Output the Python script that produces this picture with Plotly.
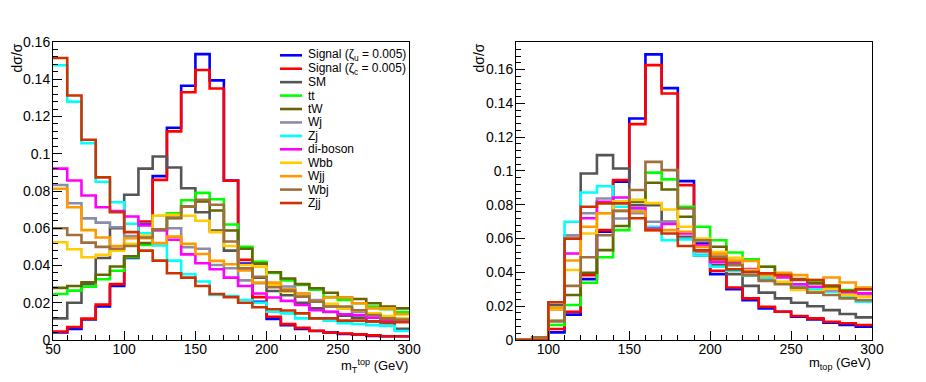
import plotly.graph_objects as go

# lower bin edges (GeV), all bins 10 GeV wide, last edge 300
mt_edges = list(range(50, 300, 10))
mtop_edges = list(range(80, 300, 10))
x_hi = 300

names = ["Signal (ζ<sub>u</sub> = 0.005)", "Signal (ζ<sub>c</sub> = 0.005)", "SM", "tt", "tW", "Wj", "Zj",
         "di-boson", "Wbb", "Wjj", "Wbj", "Zjj"]
colors = ["#0000ff", "#ff0000", "#555555", "#00ff00", "#666600", "#8c8ca8", "#00ffff",
          "#ff00ff", "#ffcc00", "#ff9900", "#a0703c", "#cc3300"]

# transverse mass of the top (left panel)
mt_sig_u = [0.004, 0.006, 0.011, 0.018, 0.029, 0.044, 0.062, 0.088, 0.114, 0.1365, 0.1535, 0.1394, 0.0856,
            0.041, 0.0205, 0.0113, 0.008, 0.006, 0.0048, 0.004, 0.0032, 0.003, 0.0022, 0.002, 0.002]
mt_sig_c = [0.0045, 0.007, 0.0115, 0.019, 0.030, 0.045, 0.0636, 0.086, 0.112, 0.133, 0.145, 0.135, 0.0855,
            0.043, 0.023, 0.0125, 0.0085, 0.0065, 0.005, 0.004, 0.0035, 0.003, 0.0025, 0.002, 0.002]
mt_sm = [0.0116, 0.020, 0.030, 0.044, 0.060, 0.078, 0.092, 0.0985, 0.0926, 0.0815, 0.0686, 0.0588, 0.048,
         0.0385, 0.0335, 0.0263, 0.024, 0.020, 0.017, 0.015, 0.013, 0.012, 0.010, 0.009, 0.006]
mt_tt = [0.0247, 0.0265, 0.0286, 0.0326, 0.0372, 0.0444, 0.051, 0.059, 0.068, 0.075, 0.079, 0.0756, 0.062,
         0.050, 0.042, 0.036, 0.032, 0.0296, 0.027, 0.023, 0.0215, 0.0197, 0.018, 0.0165, 0.015]
mt_tw = [0.028, 0.029, 0.031, 0.035, 0.0395, 0.045, 0.052, 0.0595, 0.0654, 0.0717, 0.0744, 0.0695, 0.0588,
         0.049, 0.041, 0.0364, 0.033, 0.030, 0.0278, 0.0254, 0.0228, 0.022, 0.0197, 0.018, 0.017]
mt_wj = [0.0832, 0.0734, 0.0653, 0.063, 0.0605, 0.0558, 0.0551, 0.0594, 0.060, 0.0498, 0.049, 0.0403, 0.0385,
         0.032, 0.0305, 0.0296, 0.0287, 0.025, 0.0215, 0.018, 0.017, 0.0152, 0.0134, 0.0116, 0.0116]
mt_zj = [0.1475, 0.128, 0.1057, 0.085, 0.074, 0.0624, 0.0573, 0.0507, 0.0426, 0.0353, 0.0314, 0.0242, 0.0236,
         0.0215, 0.020, 0.0152, 0.0143, 0.0116, 0.0116, 0.0104, 0.009, 0.0086, 0.008, 0.0075, 0.0048]
mt_diboson = [0.092, 0.0856, 0.0776, 0.0713, 0.0693, 0.0663, 0.0615, 0.059, 0.0538, 0.046, 0.0412, 0.038, 0.0335,
              0.029, 0.025, 0.0228, 0.021, 0.0188, 0.016, 0.0152, 0.0138, 0.0134, 0.012, 0.0107, 0.0107]
mt_wbb = [0.0525, 0.0487, 0.0444, 0.0457, 0.048, 0.0516, 0.056, 0.0668, 0.0672, 0.0667, 0.064, 0.0579, 0.0505,
          0.0403, 0.0394, 0.0296, 0.026, 0.0236, 0.0206, 0.0194, 0.017, 0.0158, 0.0143, 0.0129, 0.0116]
mt_wjj = [0.0812, 0.0713, 0.059, 0.055, 0.0505, 0.0546, 0.0546, 0.052, 0.0555, 0.0516, 0.0462, 0.0425, 0.0407,
          0.0373, 0.0308, 0.0308, 0.0272, 0.025, 0.0206, 0.0228, 0.0228, 0.0197, 0.017, 0.017, 0.0138]
mt_wbj = [0.060, 0.0564, 0.0523, 0.050, 0.049, 0.0505, 0.055, 0.0595, 0.0658, 0.0717, 0.0753, 0.0726, 0.0529,
          0.0385, 0.034, 0.0283, 0.0265, 0.0233, 0.0206, 0.018, 0.018, 0.016, 0.0134, 0.0116, 0.011]
mt_zjj = [0.1514, 0.1313, 0.1075, 0.0873, 0.0686, 0.0579, 0.048, 0.0426, 0.0358, 0.0335, 0.029, 0.0247, 0.023,
          0.020, 0.0176, 0.0165, 0.0158, 0.0143, 0.0116, 0.0116, 0.0104, 0.0104, 0.0099, 0.0095, 0.0095]

# reconstructed top mass (right panel)
mtop_sig_u = [0, 0, 0.0045, 0.015, 0.036, 0.064, 0.0936, 0.131, 0.169, 0.149, 0.094, 0.057, 0.039, 0.030,
              0.0236, 0.0187, 0.0167, 0.0138, 0.0122, 0.0102, 0.0089, 0.0079]
mtop_sig_c = [0, 0, 0.0065, 0.0167, 0.0384, 0.065, 0.0946, 0.1277, 0.1626, 0.1458, 0.0916, 0.0562, 0.041, 0.0311,
              0.0246, 0.0197, 0.0167, 0.0142, 0.0128, 0.0108, 0.0099, 0.0089]
mtop_sm = [0, 0, 0.0207, 0.062, 0.0985, 0.1094, 0.1015, 0.0798, 0.0798, 0.070, 0.061, 0.050, 0.0443, 0.039,
           0.032, 0.028, 0.0246, 0.022, 0.020, 0.0177, 0.0154, 0.0134]
mtop_tt = [0, 0, 0.0089, 0.0207, 0.0339, 0.049, 0.065, 0.0828, 0.099, 0.095, 0.0788, 0.067, 0.059, 0.0518,
           0.0477, 0.0433, 0.039, 0.0359, 0.0345, 0.0315, 0.0296, 0.0276]
mtop_tw = [0, 0, 0.0114, 0.0266, 0.0398, 0.0532, 0.0674, 0.0818, 0.093, 0.089, 0.0729, 0.059, 0.0552, 0.0463,
           0.0414, 0.0433, 0.0384, 0.036, 0.0335, 0.032, 0.029, 0.030]
mtop_wj = [0, 0, 0.019, 0.062, 0.075, 0.0837, 0.0719, 0.075, 0.070, 0.070, 0.060, 0.052, 0.048, 0.045,
           0.040, 0.036, 0.034, 0.032, 0.031, 0.030, 0.028, 0.027]
mtop_zj = [0, 0, 0.018, 0.070, 0.0873, 0.091, 0.0788, 0.0772, 0.067, 0.059, 0.0595, 0.050, 0.0433, 0.041,
           0.038, 0.037, 0.034, 0.0325, 0.030, 0.0286, 0.0256, 0.0227]
mtop_diboson = [0, 0, 0.018, 0.0512, 0.072, 0.0818, 0.0843, 0.078, 0.066, 0.0686, 0.063, 0.056, 0.046, 0.045,
                0.042, 0.039, 0.037, 0.033, 0.0315, 0.0296, 0.0286, 0.0276]
mtop_wbb = [0, 0, 0.018, 0.0414, 0.063, 0.075, 0.082, 0.0828, 0.081, 0.0772, 0.067, 0.060, 0.052, 0.0487,
            0.0414, 0.038, 0.0345, 0.0296, 0.0286, 0.030, 0.0266, 0.0256]
mtop_wjj = [0, 0.0016, 0.019, 0.047, 0.067, 0.075, 0.0764, 0.076, 0.065, 0.065, 0.064, 0.055, 0.051, 0.047,
            0.0467, 0.0384, 0.0398, 0.0384, 0.0355, 0.037, 0.034, 0.031]
mtop_wbj = [0, 0.0016, 0.011, 0.032, 0.049, 0.062, 0.0764, 0.0887, 0.1054, 0.1005, 0.0778, 0.059, 0.0493, 0.0443,
            0.0384, 0.035, 0.033, 0.031, 0.028, 0.0266, 0.0246, 0.0236]
mtop_zjj = [0, 0, 0.0223, 0.060, 0.0788, 0.0808, 0.0808, 0.072, 0.065, 0.063, 0.0556, 0.053, 0.0477, 0.0418,
            0.0404, 0.0394, 0.0384, 0.0355, 0.0355, 0.032, 0.029, 0.030]

mt_all = [mt_sig_u, mt_sig_c, mt_sm, mt_tt, mt_tw, mt_wj, mt_zj, mt_diboson, mt_wbb, mt_wjj, mt_wbj, mt_zjj]
mtop_all = [mtop_sig_u, mtop_sig_c, mtop_sm, mtop_tt, mtop_tw, mtop_wj, mtop_zj, mtop_diboson, mtop_wbb,
            mtop_wjj, mtop_wbj, mtop_zjj]

W, H = 926, 382
font = "Liberation Sans, Arial, sans-serif"

fig = go.Figure()

# histograms drawn as steps
for vals, col in zip(mt_all, colors):
    fig.add_trace(go.Scatter(x=mt_edges + [x_hi], y=vals + [vals[-1]], mode="lines", line_shape="hv",
                             line=dict(color=col, width=2.6), xaxis="x", yaxis="y", showlegend=False))
for vals, col in zip(mtop_all, colors):
    fig.add_trace(go.Scatter(x=mtop_edges + [x_hi], y=vals + [vals[-1]], mode="lines", line_shape="hv",
                             line=dict(color=col, width=2.6), xaxis="x2", yaxis="y2", showlegend=False))

ydom = [(H - 340) / H, (H - 42) / H]


def xax(dom, rng, anchor):
    return dict(domain=dom, range=rng, anchor=anchor, showline=True, linecolor="black", linewidth=1,
                mirror=True, ticks="inside", ticklen=9, tickcolor="black", dtick=50, tick0=0,
                minor=dict(ticks="inside", ticklen=5, dtick=10, tickcolor="black"),
                showgrid=False, zeroline=False, automargin=False, ticklabelstandoff=-4,
                tickfont=dict(size=14, color="black", family=font))


def yax(dom, rng, anchor):
    return dict(domain=dom, range=rng, anchor=anchor, showline=True, linecolor="black", linewidth=1,
                mirror=True, ticks="inside", ticklen=9, tickcolor="black", dtick=0.02, tick0=0,
                minor=dict(ticks="inside", ticklen=5, dtick=0.004, tickcolor="black"),
                showgrid=False, zeroline=False, automargin=False, ticklabelstandoff=-1,
                tickfont=dict(size=14, color="black", family=font))


fig.update_layout(
    width=W, height=H, margin=dict(l=0, r=0, t=0, b=0, autoexpand=False),
    paper_bgcolor="white", plot_bgcolor="white",
    xaxis=xax([53 / W, 409 / W], [50, 300], "y"),
    yaxis=yax(ydom, [0, 0.16], "x"),
    xaxis2=xax([516 / W, 872 / W], [80, 300], "y2"),
    yaxis2=yax(ydom, [0, 0.1763], "x2"),
    showlegend=False,
)

# axis titles (ROOT style: aligned at the end of the axis)
for xpx in (17, 479):
    fig.add_annotation(text="dσ/σ", xref="paper", yref="paper", x=xpx / W, y=(H - 42) / H,
                       xanchor="center", yanchor="top", textangle=-90, showarrow=False,
                       font=dict(size=14, color="black", family=font))
fig.add_annotation(text="m<sub>T</sub><sup>top</sup> (GeV)", xref="paper", yref="paper", x=410 / W,
                   y=(H - 366) / H, xanchor="right", yanchor="middle", showarrow=False,
                   font=dict(size=13, color="black", family=font))
fig.add_annotation(text="m<sub>top</sub> (GeV)", xref="paper", yref="paper", x=873 / W,
                   y=(H - 363) / H, xanchor="right", yanchor="middle", showarrow=False,
                   font=dict(size=13, color="black", family=font))

# legend box (no border), left panel
for i, (name, col) in enumerate(zip(names, colors)):
    ypx = 55.3 + 13.43 * i
    fig.add_shape(type="line", xref="paper", yref="paper", x0=280 / W, x1=302 / W,
                  y0=(H - ypx) / H, y1=(H - ypx) / H, line=dict(color=col, width=2.6))
    fig.add_annotation(text=name, xref="paper", yref="paper", x=306 / W, y=(H - ypx) / H,
                       xanchor="left", yanchor="middle", showarrow=False,
                       font=dict(size=12, color="black", family=font))

fig.write_html("out.html", config={"displayModeBar": False},
               post_script="document.body.style.margin='0';")
